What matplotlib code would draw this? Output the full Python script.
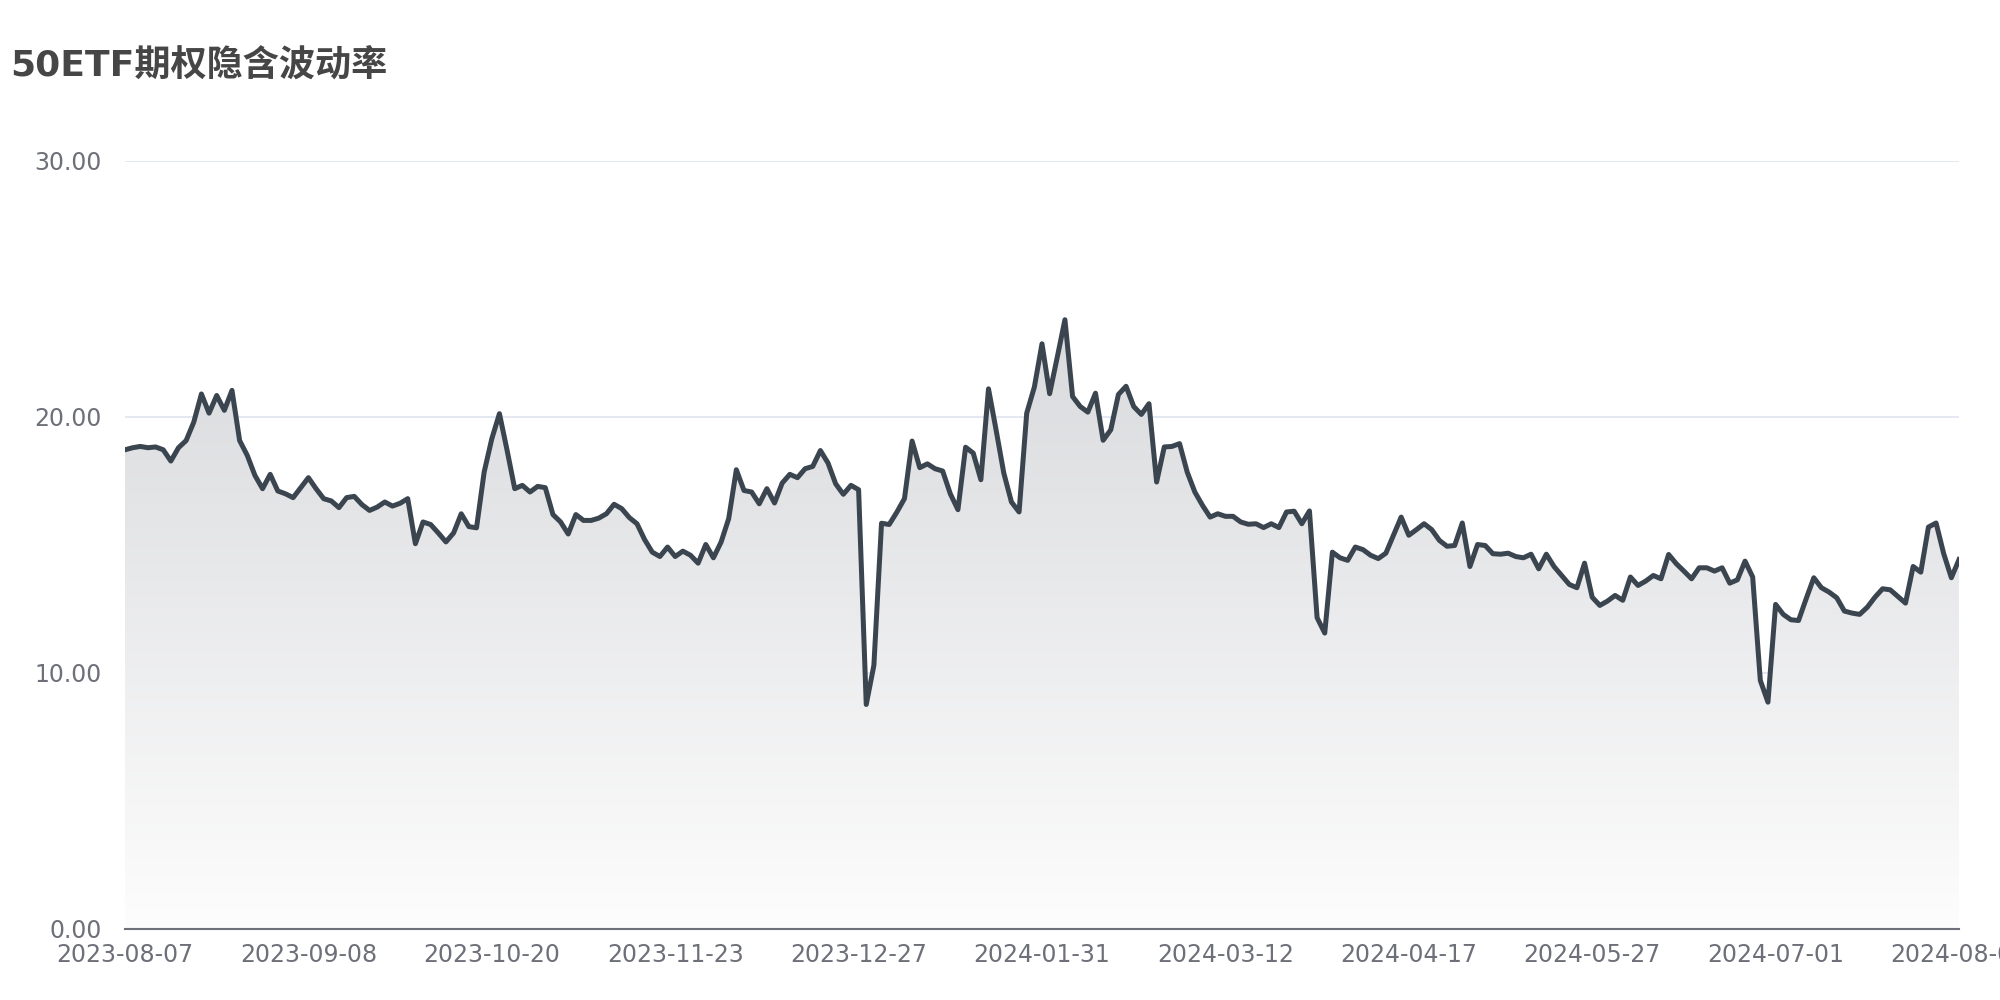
import numpy as np
import matplotlib
matplotlib.use('Agg')
import matplotlib.pyplot as plt
from matplotlib.colors import LinearSegmentedColormap

# Volatilidad implícita diaria (días hábiles, 2023-08-07 .. 2024-08-02)
iv = [
    18.72, 18.80, 18.85, 18.80, 18.83, 18.72, 18.28, 18.80, 19.08, 19.80,
    20.90, 20.15, 20.84, 20.26, 21.04, 19.08, 18.50, 17.72, 17.20, 17.76,
    17.11, 17.00, 16.85, 17.24, 17.63, 17.20, 16.81, 16.72, 16.46, 16.85,
    16.90, 16.58, 16.35, 16.48, 16.68, 16.52, 16.63, 16.81, 15.05, 15.90,
    15.80, 15.47, 15.12, 15.47, 16.22, 15.72, 15.67, 17.85, 19.15, 20.13,
    18.70, 17.20, 17.33, 17.07, 17.29, 17.24, 16.19, 15.90, 15.43, 16.19,
    15.96, 15.96, 16.05, 16.22, 16.59, 16.42, 16.07, 15.83, 15.21, 14.72,
    14.55, 14.92, 14.55, 14.76, 14.60, 14.29, 15.02, 14.50, 15.11, 16.03,
    17.94, 17.13, 17.07, 16.61, 17.20, 16.64, 17.42, 17.76, 17.63, 17.98,
    18.07, 18.69, 18.20, 17.39, 16.98, 17.33, 17.16, 8.77, 10.30, 15.85,
    15.80, 16.28, 16.81, 19.06, 18.02, 18.17, 17.98, 17.89, 17.00, 16.38,
    18.82, 18.59, 17.55, 21.10, 19.48, 17.81, 16.68, 16.29, 20.15, 21.17,
    22.86, 20.91, 22.34, 23.80, 20.80, 20.41, 20.19, 20.93, 19.09, 19.50,
    20.88, 21.20, 20.41, 20.10, 20.52, 17.46, 18.83, 18.85, 18.96, 17.85,
    17.07, 16.55, 16.09, 16.22, 16.12, 16.12, 15.90, 15.81, 15.83, 15.68,
    15.83, 15.68, 16.29, 16.32, 15.83, 16.33, 12.16, 11.56, 14.72, 14.50,
    14.40, 14.92, 14.82, 14.60, 14.47, 14.68, 15.38, 16.09, 15.38, 15.60,
    15.83, 15.60, 15.18, 14.95, 14.98, 15.86, 14.16, 15.02, 14.98, 14.66,
    14.64, 14.68, 14.55, 14.50, 14.64, 14.07, 14.64, 14.16, 13.81, 13.46,
    13.33, 14.29, 12.96, 12.64, 12.81, 13.03, 12.84, 13.75, 13.42, 13.59,
    13.81, 13.68, 14.63, 14.27, 13.98, 13.68, 14.11, 14.11, 13.98, 14.11,
    13.51, 13.64, 14.37, 13.75, 9.71, 8.86, 12.68, 12.29, 12.08, 12.05,
    12.90, 13.72, 13.33, 13.16, 12.94, 12.42, 12.34, 12.29, 12.57, 12.96,
    13.29, 13.25, 12.99, 12.73, 14.16, 13.94, 15.70, 15.86, 14.66, 13.72,
    14.43,
]

# Etiquetas del eje x (una cada 24 sesiones)
date_labels = ['2023-08-07', '2023-09-08', '2023-10-20', '2023-11-23',
               '2023-12-27', '2024-01-31', '2024-03-12', '2024-04-17',
               '2024-05-27', '2024-07-01', '2024-08-02']
label_step = 24
y_ticks = [0, 10, 20, 30]

line_color = '#3b4550'
axis_color = '#6e7079'

x = np.arange(len(iv))

fig = plt.figure(figsize=(20, 10), dpi=100)
ax = fig.add_axes([0.0625, 0.071, 0.917, 0.768])

# Área con degradado recortada por el polígono bajo la curva
area = ax.fill_between(x, iv, 0, color='none', lw=0)
grad = np.linspace(1, 0, 256).reshape(-1, 1)
cmap = LinearSegmentedColormap.from_list('fade', ['#fdfdfd', '#d9dadd'])
img = ax.imshow(grad, extent=[x[0], x[-1], 0, max(iv)], aspect='auto',
                cmap=cmap, origin='upper', zorder=1, interpolation='bicubic')
img.set_clip_path(area.get_paths()[0], transform=ax.transData)

ax.plot(x, iv, color=line_color, lw=3.6, zorder=3, solid_joinstyle='round')

ax.set_xlim(x[0], x[-1])
ax.set_ylim(0, 30)

ax.set_yticks(y_ticks)
ax.set_yticklabels([f'{v:.2f}' for v in y_ticks])
ax.set_xticks(x[::label_step])
ax.set_xticklabels(date_labels)

ax.yaxis.grid(True, color='#e0e6f1', lw=1.3)
ax.set_axisbelow(True)

for side in ['top', 'right', 'left']:
    ax.spines[side].set_visible(False)
ax.spines['bottom'].set_color(axis_color)
ax.spines['bottom'].set_linewidth(1.5)
ax.spines['bottom'].set_zorder(4)

ax.tick_params(axis='x', length=0, pad=10, labelsize=17, labelcolor=axis_color)
ax.tick_params(axis='y', length=0, pad=17, labelsize=17, labelcolor=axis_color)

# Título: latinas en DejaVu, chino con Noto CJK
fig.text(0.005, 0.935, '50ETF期权隐含波动率', fontsize=26, fontweight='bold',
         color='#464646', family=['DejaVu Sans', 'Noto Sans CJK SC'],
         ha='left', va='center')

fig.savefig('out.png', dpi=100)
